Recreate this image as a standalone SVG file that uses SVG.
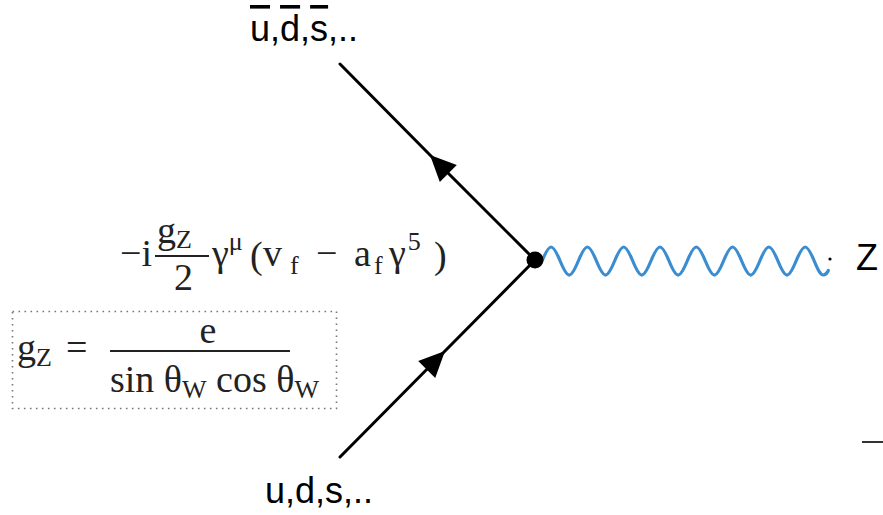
<svg xmlns="http://www.w3.org/2000/svg" width="883" height="515" viewBox="0 0 883 515">
<style>
.lbl{font-family:"Liberation Sans",Arial,sans-serif;font-size:36px;fill:#000}
.m{font-family:"Liberation Serif","Times New Roman",serif;font-size:38px;fill:#222}
.s{font-size:26px}
.fermion{fill:none;stroke:#000;stroke-width:3;stroke-linecap:round}
</style>
<defs>
<marker id="arr" markerUnits="userSpaceOnUse" markerWidth="30" markerHeight="26" refX="26" refY="12" orient="auto" overflow="visible">
<path d="M0,0 L26,12 L0,24 z" fill="#000"/>
</marker>
</defs>
<rect width="883" height="515" fill="#fff"/>
<g id="connectors">
<path id="antiquark-line" class="fermion" d="M535,260 L430,155 L340,64" marker-mid="url(#arr)"/>
<path id="quark-line" class="fermion" d="M340,457 L445,351 L535,260" marker-mid="url(#arr)"/>
<path id="z-boson" fill="none" stroke="#3a8dd0" stroke-width="3.2" stroke-linecap="round" d="M542,261 c7.70,-18.7 10.45,-18.7 18.15,0 c7.70,18.7 10.45,18.7 18.15,0 c7.70,-18.7 10.45,-18.7 18.15,0 c7.70,18.7 10.45,18.7 18.15,0 c7.70,-18.7 10.45,-18.7 18.15,0 c7.70,18.7 10.45,18.7 18.15,0 c7.70,-18.7 10.45,-18.7 18.15,0 c7.70,18.7 10.45,18.7 18.15,0 c7.70,-18.7 10.45,-18.7 18.15,0 c7.70,18.7 10.45,18.7 18.15,0 c7.70,-18.7 10.45,-18.7 18.15,0 c7.70,18.7 10.45,18.7 18.15,0 c7.70,-18.7 10.45,-18.7 18.15,0 c7.70,18.7 10.45,18.7 18.15,0 c7.70,-18.7 10.45,-18.7 18.15,0 c2.96,7.2 5.79,14 9.08,14 q3,0 5,-4.5"/>
</g>
<g id="vertex">
<circle cx="535" cy="260" r="8.5" fill="#000"/>
</g>
<g id="z-end">
<circle cx="830" cy="259" r="1.6" fill="#000"/>
</g>
<g id="label-antiquarks">
<text class="lbl" x="250" y="41"><tspan text-decoration="overline">u</tspan>,<tspan text-decoration="overline">d</tspan>,<tspan text-decoration="overline">s</tspan>,..</text>
</g>
<g id="label-quarks">
<text class="lbl" x="265" y="503">u,d,s,..</text>
</g>
<g id="label-z">
<text class="lbl" x="856" y="270">Z</text>
</g>
<g id="vertex-factor">
<text class="m" x="120" y="266">−i</text>
<text class="m" x="157" y="243">g<tspan class="s" dy="5">Z</tspan></text>
<line x1="155" y1="256" x2="209" y2="256" stroke="#222" stroke-width="2"/>
<text class="m" x="174" y="290">2</text>
<text class="m" x="212" y="266">γ<tspan class="s" dy="-16">μ</tspan></text>
<text class="m" x="250" y="268">(</text>
<text class="m" x="263" y="266">v<tspan class="s" dx="8" dy="8">f</tspan></text>
<text class="m" x="316" y="266">−</text>
<text class="m" x="354" y="266">a<tspan class="s" dx="3" dy="8">f</tspan></text>
<text class="m" x="389" y="266">γ<tspan class="s" dx="2" dy="-16">5</tspan></text>
<text class="m" x="434" y="268">)</text>
</g>
<g id="coupling-box">
<rect x="12.5" y="311.5" width="324" height="97" fill="none" stroke="#777" stroke-width="1.6" stroke-dasharray="1.6 4.4"/>
<text class="m" x="17" y="360">g<tspan class="s" dy="6">Z</tspan></text>
<text class="m" x="66" y="360">=</text>
<line x1="110" y1="351" x2="290" y2="351" stroke="#222" stroke-width="2"/>
<text class="m" x="208" y="343" text-anchor="middle">e</text>
<text class="m" x="110" y="392">sin θ<tspan class="s" dy="6">W</tspan><tspan dy="-6"> cos θ</tspan><tspan class="s" dy="6">W</tspan></text>
</g>
<line x1="862" y1="442" x2="883" y2="442" stroke="#333" stroke-width="2"/>
</svg>
